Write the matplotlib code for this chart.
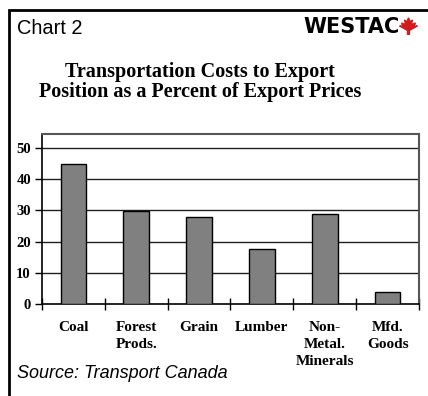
import numpy as np
import matplotlib
import matplotlib.pyplot as plt
from matplotlib.patches import Rectangle
matplotlib.use('Agg')

categories = ['Coal', 'Forest\nProds.', 'Grain', 'Lumber', 'Non-\nMetal.\nMinerals', 'Mfd.\nGoods']
values = [45, 29.7, 28, 17.6, 28.7, 3.8]
y_ticks = [0, 10, 20, 30, 40, 50]

serif = ['Liberation Serif', 'DejaVu Serif']
sans = ['Liberation Sans', 'DejaVu Sans']

fig = plt.figure(figsize=(4.28, 3.96), dpi=100)
W, H = 428, 396

# outer frame
fig.patches.append(Rectangle((9 / W, -0.05), 1.0, 1 - 10 / H + 0.05, transform=fig.transFigure,
                             fill=False, edgecolor='black', linewidth=2))

fig.text(17 / W, 1 - 29 / H, 'Chart 2', family=sans, fontsize=14.4, va='center', ha='left')
fig.text(0.5 * (300 + 402) / W, 1 - 27 / H, 'WESTAC', family=['DejaVu Sans'], fontsize=15,
         fontweight='heavy', va='center', ha='center', color='black')
# maple leaf (logo)
leaf = [(0, 1), (0.15, 0.6), (0.4, 0.75), (0.3, 0.3), (0.7, 0.45), (0.6, 0.1),
        (0.9, 0.15), (0.1, -0.3), (0.1, -0.7), (-0.1, -0.7), (-0.1, -0.3), (-0.9, 0.15),
        (-0.6, 0.1), (-0.7, 0.45), (-0.3, 0.3), (-0.4, 0.75), (-0.15, 0.6), (0, 1)]
fig.add_artist(plt.Line2D([408 / W], [1 - 27 / H], marker=leaf, markersize=14,
                          color='#d01c1c', linestyle='none', transform=fig.transFigure))

fig.text(200 / W, 1 - 82 / H, 'Transportation Costs to Export\nPosition as a Percent of Export Prices',
         family=serif, fontsize=14.5, fontweight='bold', ha='center', va='center', linespacing=1.05)

ax = fig.add_axes([42 / W, (H - 304) / H, (419 - 42) / W, (304 - 134) / H])
x = np.arange(len(categories))
ax.bar(x, values, width=0.41, color='#808080', edgecolor='black', linewidth=1, zorder=3)

ax.set_xlim(-0.5, len(categories) - 0.5)
ax.set_ylim(0, 54.5)
ax.set_yticks(y_ticks)
ax.set_yticklabels([str(t) for t in y_ticks], family=serif, fontweight='bold', fontsize=10.5)
for t in y_ticks[1:]:
    ax.axhline(t, color='#202020', linewidth=1, zorder=1)

ax.set_xticks(np.arange(len(categories) + 1) - 0.5)
ax.set_xticklabels([])
ax.set_xticks(x, minor=True)
ax.set_xticklabels(categories, minor=True, family=serif, fontweight='bold', fontsize=11,
                   linespacing=1.4, va='top')
ax.tick_params(axis='x', which='major', direction='inout', length=8, width=1)
ax.tick_params(axis='x', which='minor', length=0, pad=12)
ax.tick_params(axis='y', direction='out', length=5, width=1, pad=3)

for side in ['left', 'bottom']:
    ax.spines[side].set_color('black')
    ax.spines[side].set_linewidth(1.2)
for side in ['top', 'right']:
    ax.spines[side].set_color('#555555')
    ax.spines[side].set_linewidth(1.5)

fig.text(17 / W, 1 - 373 / H, 'Source: Transport Canada', family=sans, fontsize=13,
         style='italic', va='center', ha='left')

fig.savefig('out.png', dpi=100)
